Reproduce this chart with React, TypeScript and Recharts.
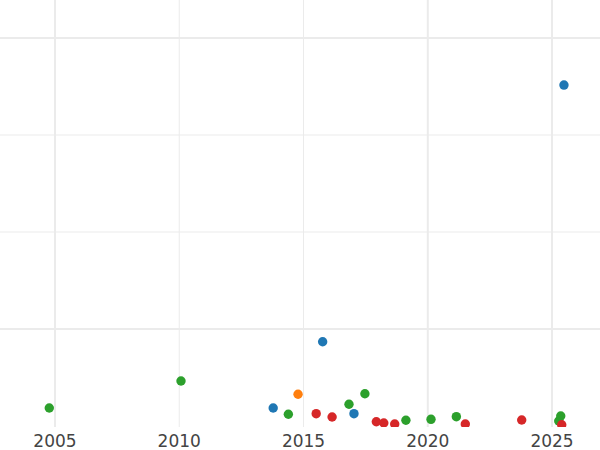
import React from 'react';
import { ScatterChart, Scatter, XAxis, YAxis, CartesianGrid } from 'recharts';

const xTicks = [2005, 2010, 2015, 2020, 2025];
const majorYears = [2005, 2020, 2025];
const minorYears = [2010, 2015];
const majorLevels = [100, 400];
const minorLevels = [200, 300];

const greenYears = [2004.77, 2010.07, 2014.39, 2016.83, 2017.47, 2019.12, 2020.13, 2021.15, 2025.27, 2025.35];
const greenValues = [18.6, 46.4, 12.1, 22.4, 33.3, 5.9, 6.9, 9.6, 5.2, 10.3];
const blueYears = [2013.78, 2015.77, 2017.03, 2025.48];
const blueValues = [18.6, 86.9, 12.7, 351.5];
const orangeYears = [2014.78];
const orangeValues = [32.7];
const redYears = [2015.51, 2016.15, 2017.93, 2018.23, 2018.67, 2021.51, 2023.78, 2025.39];
const redValues = [12.7, 9.3, 4.4, 3.1, 2.1, 2.1, 6.2, 1.3];

const toPoints = (xs: number[], ys: number[]) => xs.map((x, i) => ({ x, y: ys[i] }));

const greenData = toPoints(greenYears, greenValues);
const blueData = toPoints(blueYears, blueValues);
const orangeData = toPoints(orangeYears, orangeValues);
const redData = toPoints(redYears, redValues);

const dot = (color: string) => (props: any) => (
  <circle cx={props.cx} cy={props.cy} r={4.7} fill={color} />
);

export default function App() {
  return (
    <div style={{ position: 'absolute', left: 0, top: 0, background: '#fff' }}>
      <ScatterChart width={600} height={450} margin={{ top: 0, right: 0, bottom: 0, left: 0 }}>
        <CartesianGrid stroke="#ebebeb" strokeWidth={1} verticalValues={minorYears} horizontalValues={minorLevels} />
        <CartesianGrid stroke="#ebebeb" strokeWidth={2} verticalValues={majorYears} horizontalValues={majorLevels} />
        <XAxis
          type="number"
          dataKey="x"
          domain={[2002.787, 2026.93]}
          allowDataOverflow
          ticks={xTicks}
          interval={0}
          axisLine={false}
          tickLine={false}
          tickSize={0}
          tickMargin={8}
          height={23}
          tick={{ fill: '#444', fontSize: 17, fontFamily: 'DejaVu Sans' }}
        />
        <YAxis type="number" dataKey="y" domain={[-1.03, 439.2]} allowDataOverflow hide width={0} />
        <Scatter data={greenData} fill="#2ca02c" shape={dot('#2ca02c')} isAnimationActive={false} />
        <Scatter data={orangeData} fill="#ff7f0e" shape={dot('#ff7f0e')} isAnimationActive={false} />
        <Scatter data={blueData} fill="#1f77b4" shape={dot('#1f77b4')} isAnimationActive={false} />
        <Scatter data={redData} fill="#d62728" shape={dot('#d62728')} isAnimationActive={false} />
      </ScatterChart>
    </div>
  );
}
